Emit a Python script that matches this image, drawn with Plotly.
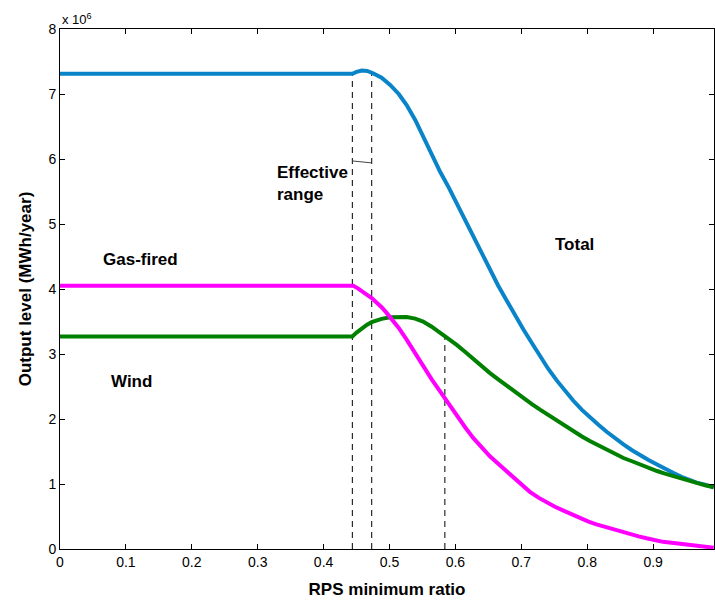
import plotly.graph_objects as go

# ---- data (values in units of 1e6 MWh/year) ----
total_x = [0.0, 0.4436, 0.450, 0.458, 0.466, 0.475, 0.488, 0.501, 0.514, 0.526, 0.539,
           0.551, 0.564, 0.577, 0.590, 0.602, 0.615, 0.627, 0.640, 0.652, 0.665,
           0.678, 0.690, 0.703, 0.716, 0.729, 0.741, 0.754, 0.766, 0.779, 0.792,
           0.804, 0.817, 0.830, 0.842, 0.855, 0.868, 0.880, 0.893, 0.906, 0.918,
           0.931, 0.943, 0.955, 0.966, 0.979, 0.992]
total_y = [7.31, 7.31, 7.34, 7.36, 7.355, 7.32, 7.25, 7.14, 7.00, 6.83, 6.60,
           6.34, 6.07, 5.80, 5.56, 5.32, 5.06, 4.80, 4.54, 4.29, 4.05,
           3.82, 3.60, 3.38, 3.17, 2.96, 2.77, 2.59, 2.43, 2.28, 2.14,
           2.02, 1.91, 1.80, 1.70, 1.61, 1.52, 1.44, 1.37, 1.30, 1.23,
           1.17, 1.11, 1.06, 1.02, 0.99, 0.95]

wind_x = [0.0, 0.4436, 0.450, 0.458, 0.466, 0.473, 0.480, 0.488, 0.501, 0.514, 0.526,
          0.539, 0.551, 0.564, 0.577, 0.590, 0.602, 0.615, 0.627, 0.640, 0.652,
          0.665, 0.678, 0.690, 0.703, 0.716, 0.729, 0.741, 0.754, 0.766, 0.779,
          0.792, 0.804, 0.817, 0.830, 0.842, 0.855, 0.868, 0.880, 0.893, 0.906,
          0.918, 0.931, 0.943, 0.955, 0.966, 0.979, 0.992]
wind_y = [3.27, 3.27, 3.33, 3.40, 3.45, 3.49, 3.52, 3.54, 3.565, 3.575, 3.57,
          3.545, 3.50, 3.42, 3.33, 3.23, 3.14, 3.03, 2.92, 2.81, 2.71,
          2.61, 2.51, 2.42, 2.33, 2.23, 2.14, 2.06, 1.98, 1.90, 1.82,
          1.73, 1.66, 1.59, 1.52, 1.46, 1.40, 1.35, 1.30, 1.25, 1.20,
          1.16, 1.12, 1.08, 1.04, 1.01, 0.98, 0.95]

gas_x = [0.0, 0.445, 0.452, 0.460, 0.466, 0.473, 0.480, 0.488, 0.495, 0.501, 0.514,
         0.526, 0.539, 0.551, 0.564, 0.577, 0.590, 0.602, 0.615, 0.627, 0.640,
         0.652, 0.665, 0.678, 0.688, 0.700, 0.713, 0.726, 0.739, 0.751, 0.764,
         0.777, 0.789, 0.802, 0.814, 0.827, 0.840, 0.852, 0.865, 0.878, 0.890,
         0.903, 0.915, 0.928, 0.941, 0.953, 0.966, 0.979, 0.992]
gas_y = [4.05, 4.05, 4.01, 3.96, 3.91, 3.86, 3.80, 3.72, 3.64, 3.57, 3.40,
         3.22, 3.01, 2.80, 2.61, 2.42, 2.23, 2.04, 1.87, 1.71, 1.56,
         1.43, 1.31, 1.19, 1.09, 0.98, 0.88, 0.79, 0.71, 0.65, 0.59,
         0.53, 0.47, 0.42, 0.38, 0.34, 0.30, 0.265, 0.23, 0.195, 0.165,
         0.135, 0.11, 0.095, 0.08, 0.065, 0.05, 0.035, 0.02]

# dashed reference lines: x position and top value
dash_x = [0.4436, 0.473, 0.584]
dash_top = [7.31, 7.33, 3.27]
bracket_x = [0.4436, 0.473]
bracket_y = [5.97, 5.94]

x_ticks = [0, 0.1, 0.2, 0.3, 0.4, 0.5, 0.6, 0.7, 0.8, 0.9]
x_ticktext = ["0", "0.1", "0.2", "0.3", "0.4", "0.5", "0.6", "0.7", "0.8", "0.9"]
y_ticks = [0, 1, 2, 3, 4, 5, 6, 7, 8]

labels = [("Gas-fired", 0.122, 4.45), ("Wind", 0.108, 2.57), ("Total", 0.781, 4.69)]

FONT = "Arial, Liberation Sans, Helvetica, sans-serif"

fig = go.Figure()

for xv, top in zip(dash_x, dash_top):
    fig.add_trace(go.Scatter(x=[xv, xv], y=[0, top], mode="lines",
                             line=dict(color="black", width=1, dash="6px,5px"),
                             hoverinfo="skip", showlegend=False))
fig.add_trace(go.Scatter(x=bracket_x, y=bracket_y, mode="lines",
                         line=dict(color="#444444", width=1),
                         hoverinfo="skip", showlegend=False))

fig.add_trace(go.Scatter(x=total_x, y=total_y, mode="lines", name="Total",
                         line=dict(color="#0a84c8", width=4)))
fig.add_trace(go.Scatter(x=wind_x, y=wind_y, mode="lines", name="Wind",
                         line=dict(color="#008000", width=4)))
fig.add_trace(go.Scatter(x=gas_x, y=gas_y, mode="lines", name="Gas-fired",
                         line=dict(color="#ff00ff", width=4)))

for txt, xv, yv in labels:
    fig.add_annotation(x=xv, y=yv, text="<b>%s</b>" % txt, showarrow=False,
                       font=dict(family=FONT, size=17, color="black"),
                       xanchor="center", yanchor="middle")

fig.add_annotation(x=0.3265, y=5.63, text="<b>Effective<br>range</b>", showarrow=False,
                   align="left", xanchor="left", yanchor="middle",
                   font=dict(family=FONT, size=17, color="black"))

fig.add_annotation(xref="paper", yref="paper", x=0, y=1, xanchor="left", yanchor="bottom",
                   text="x 10<sup>6</sup>", showarrow=False, yshift=0,
                   font=dict(family=FONT, size=13, color="black"))

axis_common = dict(showline=True, linecolor="black", linewidth=1, mirror="ticks",
                   ticks="inside", ticklen=5, tickcolor="black", showgrid=False,
                   zeroline=False, tickfont=dict(family=FONT, size=14, color="black"))

fig.update_xaxes(range=[0, 0.9924], tickvals=x_ticks, ticktext=x_ticktext,
                 title=dict(text="<b>RPS minimum ratio</b>", standoff=14,
                            font=dict(family=FONT, size=17, color="black")),
                 **axis_common)
fig.update_yaxes(range=[0, 8], tickvals=y_ticks,
                 title=dict(text="<b>Output level (MWh/year)</b>", standoff=12,
                            font=dict(family=FONT, size=17, color="black")),
                 **axis_common)

fig.update_layout(width=715, height=602, plot_bgcolor="white", paper_bgcolor="white",
                  margin=dict(l=60, r=1, t=29, b=53), showlegend=False,
                  hovermode=False)

fig.write_html("out.html", config={"displayModeBar": False},
               post_script="document.body.style.margin='0';")
